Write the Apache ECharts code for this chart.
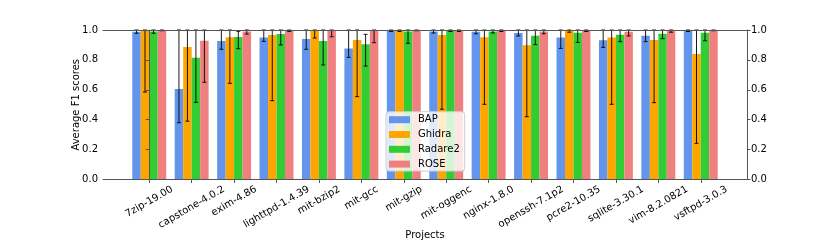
<!DOCTYPE html>
<html><head><meta charset="utf-8">
<script src="https://cdn.jsdelivr.net/npm/echarts@6/dist/echarts.min.js"></script>
<style>html,body{margin:0;padding:0;background:#fff}#c{width:830px;height:249px}</style>
</head><body><div id="c"></div>
<script>
const categories = ['7zip-19.00','capstone-4.0.2','exim-4.86','lighttpd-1.4.39','mit-bzip2','mit-gcc','mit-gzip','mit-oggenc','nginx-1.8.0','openssh-7.1p2','pcre2-10.35','sqlite-3.30.1','vim-8.2.0821','vsftpd-3.0.3'];
const seriesNames = ['BAP','Ghidra','Radare2','ROSE'];
const yTicks = [0, 0.2, 0.4, 0.6, 0.8, 1.0];

const bap      = [0.989, 0.605, 0.926, 0.949, 0.940, 0.877, 1.000, 0.990, 0.989, 0.980, 0.949, 0.931, 0.962, 1.000];
const bapLow   = [0.978, 0.380, 0.871, 0.924, 0.871, 0.817, 0.990, 0.980, 0.975, 0.960, 0.877, 0.884, 0.922, 0.990];
const bapHigh  = [1.000, 1.000, 1.000, 1.000, 1.000, 1.000, 1.000, 1.000, 1.000, 1.000, 1.000, 1.000, 1.000, 1.000];

const ghidra     = [0.995, 0.886, 0.951, 0.967, 1.000, 0.933, 1.000, 0.967, 0.951, 0.898, 1.000, 0.949, 0.933, 0.839];
const ghidraLow  = [0.585, 0.390, 0.643, 0.527, 0.946, 0.554, 0.990, 0.470, 0.503, 0.420, 0.985, 0.503, 0.514, 0.242];
const ghidraHigh = [1.000, 1.000, 1.000, 1.000, 1.000, 1.000, 1.000, 1.000, 1.000, 1.000, 1.000, 1.000, 1.000, 1.000];

const radare2     = [0.990, 0.815, 0.953, 0.973, 0.926, 0.904, 0.990, 1.000, 0.990, 0.962, 0.982, 0.969, 0.975, 0.982];
const radare2Low  = [0.978, 0.516, 0.875, 0.900, 0.766, 0.759, 0.911, 0.990, 0.980, 0.902, 0.917, 0.922, 0.942, 0.928];
const radare2High = [1.000, 1.000, 0.991, 1.000, 1.000, 0.971, 1.000, 1.000, 1.000, 1.000, 1.000, 1.000, 1.000, 1.000];

const rose     = [1.000, 0.928, 0.990, 1.000, 1.000, 0.993, 1.000, 1.000, 1.000, 0.990, 1.000, 0.989, 1.000, 1.000];
const roseLow  = [0.995, 0.650, 0.973, 0.990, 0.955, 0.915, 0.995, 0.990, 0.990, 0.975, 0.990, 0.960, 0.985, 0.995];
const roseHigh = [1.000, 1.000, 1.000, 1.000, 1.000, 1.000, 1.000, 1.000, 1.000, 1.000, 1.000, 1.000, 1.000, 1.000];

const colors = ['#6495ED', '#FFA500', '#32CD32', '#F08080'];
const values = [bap, ghidra, radare2, rose];
const lows = [bapLow, ghidraLow, radare2Low, roseLow];
const highs = [bapHigh, ghidraHigh, radare2High, roseHigh];

const FONT = '"DejaVu Sans", sans-serif';
const xMin = -1.09, xMax = 14.09;
const gridW = 644;
const pxPerUnit = gridW / (xMax - xMin);
const ctx = document.createElement('canvas').getContext('2d');
ctx.font = '10px "DejaVu Sans"';
const labelPos = categories.map((c, i) => i + ctx.measureText(c).width * Math.cos(Math.PI / 6) / 2 / pxPerUnit);
const tickPos = categories.map((c, i) => i);

function nearestLabel(v) {
  let best = 0, bd = Infinity;
  labelPos.forEach((p, i) => { const d = Math.abs(p - v); if (d < bd) { bd = d; best = i; } });
  return categories[best];
}

const axisColor = '#555';
const series = [];
seriesNames.forEach((name, k) => {
  series.push({
    name: name, type: 'bar', xAxisIndex: 0, yAxisIndex: 0,
    barGap: 0, barCategoryGap: '20%',
    itemStyle: { color: colors[k] },
    data: values[k].map((v, i) => [i, v]),
    z: 2
  });
});
seriesNames.forEach((name, k) => {
  series.push({
    name: name + ' error', type: 'custom', xAxisIndex: 0, yAxisIndex: 0, z: 3,
    data: lows[k].map((lo, i) => [i, lo, highs[k][i]]),
    encode: { x: 0, y: [1, 2] },
    renderItem: function (params, api) {
      const i = api.value(0);
      const c = api.coord([i, 0]);
      const band = api.size([1, 0])[0];
      const x = c[0] + (k - 1.5) * band * 0.2;
      const lo = api.value(1);
      const hi = Math.min(api.value(2), 1);
      const yLo = api.coord([i, lo])[1];
      const yHi = api.coord([i, hi])[1];
      const st = { stroke: '#000', lineWidth: 1, opacity: 0.9 };
      return {
        type: 'group',
        children: [
          { type: 'line', shape: { x1: x, y1: yLo, x2: x, y2: yHi }, style: st },
          { type: 'line', shape: { x1: x - 2, y1: yLo, x2: x + 2, y2: yLo }, style: st },
          { type: 'line', shape: { x1: x - 2, y1: yHi, x2: x + 2, y2: yHi }, style: st }
        ]
      };
    }
  });
});

const yLabel = { fontSize: 10, fontFamily: FONT, color: '#000', formatter: v => v.toFixed(1) };
const option = {
  animation: false,
  backgroundColor: '#fff',
  grid: { left: 103, top: 30, width: gridW, height: 149.5, containLabel: false, outerBoundsMode: 'none' },
  legend: {
    data: seriesNames, orient: 'vertical', left: 386, top: 111.7,
    icon: 'rect', itemWidth: 21, itemHeight: 7, itemGap: 2.8,
    padding: [2, 5, 1, 3], selectedMode: false,
    textStyle: { fontSize: 10, fontFamily: FONT, color: '#000', lineHeight: 12, padding: [0, 0, 0, 3] },
    backgroundColor: 'rgba(255,255,255,0.8)', borderColor: '#cccccc', borderWidth: 1, borderRadius: 3
  },
  xAxis: [
    {
      type: 'value', min: xMin, max: xMax, position: 'bottom', z: 10,
      name: 'Projects', nameLocation: 'middle', nameGap: 51, nameMoveOverlap: false,
      nameTextStyle: { fontSize: 10, fontFamily: FONT, color: '#000' },
      axisLine: { show: true, lineStyle: { color: axisColor, width: 1 } },
      axisTick: { show: true, length: 3.5, lineStyle: { color: axisColor }, customValues: tickPos },
      axisLabel: { customValues: labelPos, rotate: 30, margin: 9, fontSize: 10, fontFamily: FONT, color: '#000',
                   formatter: v => nearestLabel(v) },
      splitLine: { show: false }
    },
    {
      type: 'value', min: xMin, max: xMax, position: 'top', z: 10,
      axisLine: { show: true, onZero: false, lineStyle: { color: axisColor, width: 1 } },
      axisTick: { show: false }, axisLabel: { show: false }, splitLine: { show: false }
    }
  ],
  yAxis: [
    {
      type: 'value', min: 0, max: 1, interval: 0.2, position: 'left', z: 10,
      name: 'Average F1 scores', nameLocation: 'middle', nameGap: 22, nameMoveOverlap: false,
      nameTextStyle: { fontSize: 10, fontFamily: FONT, color: '#000' },
      axisLine: { show: true, lineStyle: { color: axisColor, width: 1 } },
      axisTick: { show: true, length: 3.5, lineStyle: { color: axisColor } },
      axisLabel: Object.assign({ margin: 5 }, yLabel),
      splitLine: { show: false }
    },
    {
      type: 'value', min: 0, max: 1, interval: 0.2, position: 'right', z: 10,
      axisLine: { show: true, onZero: false, lineStyle: { color: axisColor, width: 1 } },
      axisTick: { show: true, length: 3.5, lineStyle: { color: axisColor } },
      axisLabel: Object.assign({ margin: 4 }, yLabel),
      splitLine: { show: false }
    }
  ],
  series: series
};
const chart = echarts.init(document.getElementById('c'), null, { renderer: 'canvas' });
chart.setOption(option);
</script>
</body></html>
